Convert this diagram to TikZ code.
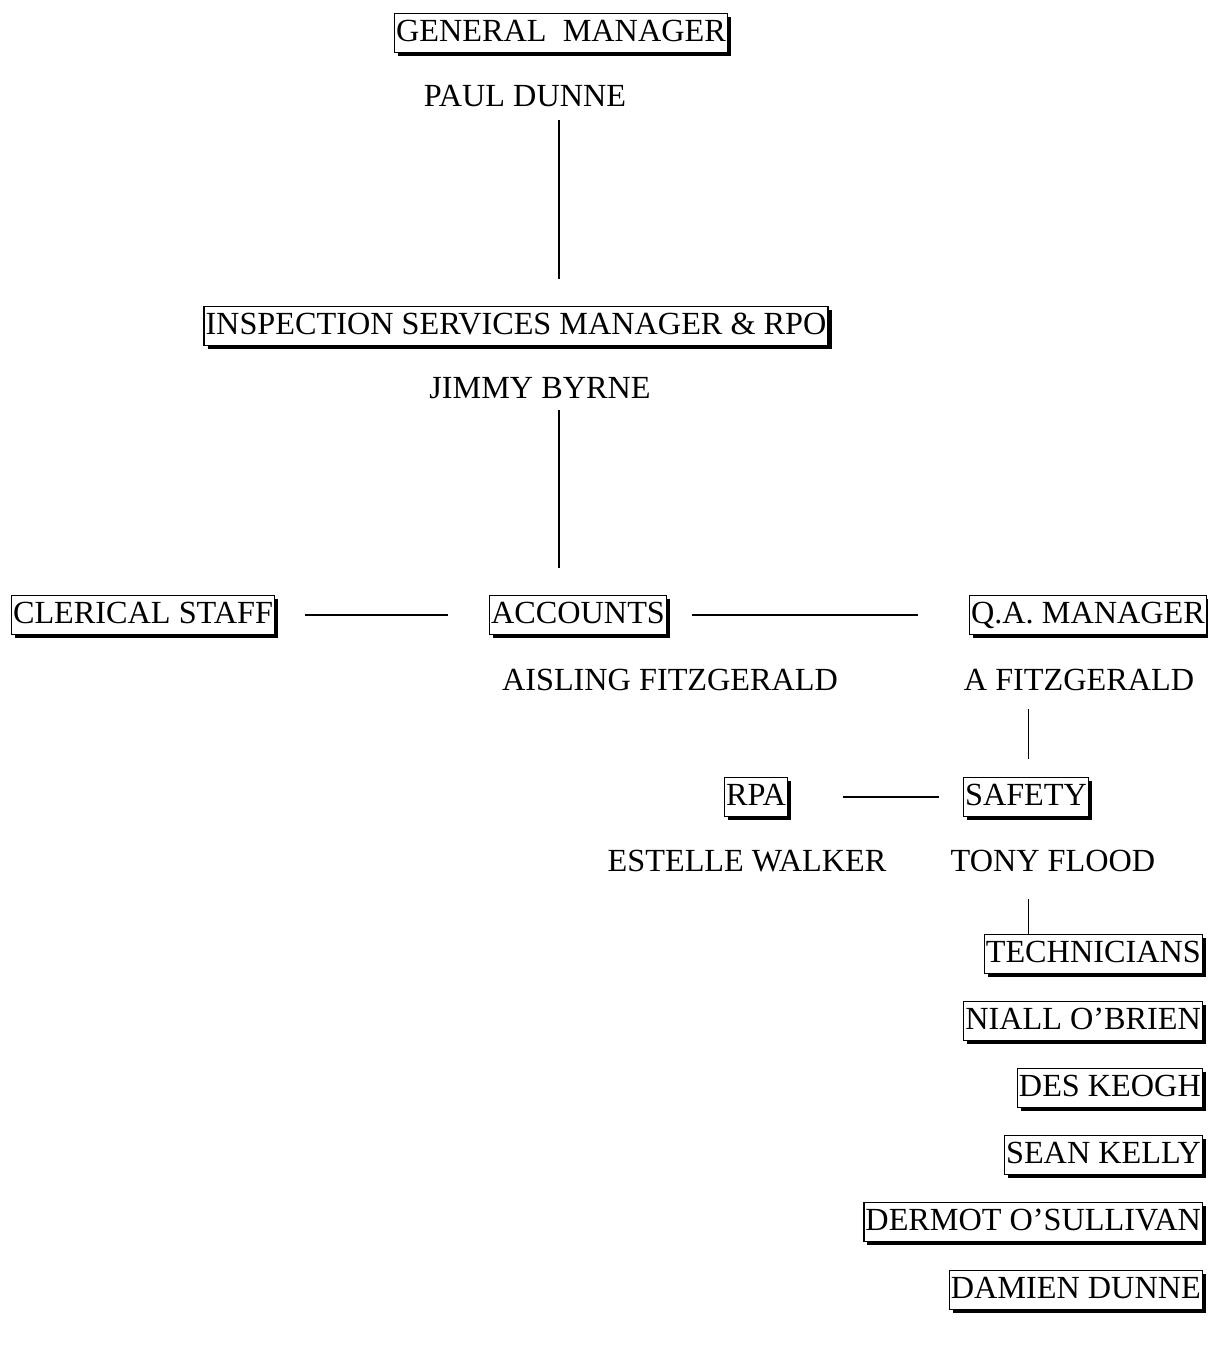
\documentclass[tikz,border=0pt]{standalone}
\usepackage{fontspec}
\setmainfont{Liberation Serif}
\usepackage{tikz}
\usetikzlibrary{shadows}

\tikzset{
  box/.style={draw, line width=0.55pt, fill=white, inner xsep=0.6pt, inner ysep=1.6pt,
    text height=9.6pt, text depth=2.6pt,
    drop shadow={shadow xshift=1.4pt, shadow yshift=-1.4pt, fill=black, opacity=1}},
  person/.style={inner xsep=0.6pt, inner ysep=1.6pt, text height=9.6pt, text depth=2.6pt},
  link/.style={line width=0.6pt}
}

\begin{document}
\begin{tikzpicture}[x=0.4pt, y=-0.4pt, font=\fontsize{12.9}{15}\selectfont]
        \useasboundingbox (0,0) rectangle (1207,1353);
        \node[box](gm)at(561,33){GENERAL\ \ MANAGER};
        \node[person](pd)at(525,98){PAUL DUNNE};
        \node[box](ism)at(516,326){INSPECTION SERVICES MANAGER \& RPO};
        \node[person](jb)at(540,390){JIMMY BYRNE};
        \node[box](cs)at(143,615){CLERICAL STAFF};
        \node[box](acc)at(578,615){ACCOUNTS};
        \node[box](qa)at(1088,615){Q.A. MANAGER};
        \node[person](af)at(670,682){AISLING FITZGERALD};
        \node[person](qf)at(1079,682){A FITZGERALD};
        \node[box](rpa)at(756,797){RPA};
        \node[box](sf)at(1026,797){SAFETY};
        \node[person](ew)at(747,863){ESTELLE WALKER};
        \node[person](tf)at(1053,863){TONY FLOOD};
        \node[box,anchor=east](tech)at(1203,954){TECHNICIANS};
        \node[box,anchor=east](nob)at(1203,1021){NIALL O'BRIEN};
        \node[box,anchor=east](dk)at(1203,1088){DES KEOGH};
        \node[box,anchor=east](sk)at(1203,1155){SEAN KELLY};
        \node[box,anchor=east](dos)at(1203,1222){DERMOT O'SULLIVAN};
        \node[box,anchor=east](dd)at(1203,1290){DAMIEN DUNNE};
        \draw[link, shorten <=1pt, shorten >=10.8pt] ([xshift=-0.8pt]pd.south -| gm.south) -- ([xshift=-0.8pt]ism.north -| gm.south);
        \draw[link, shorten >=11pt] ([xshift=-0.8pt]jb.south -| gm.south) -- ([xshift=-0.8pt]acc.north -| gm.south);
        \draw[link, shorten <=12pt, shorten >=16.4pt] (cs) -- (acc);
        \draw[link, shorten <=10pt, shorten >=20.4pt] (acc) -- (qa);
        \draw[link, shorten <=2.8pt, shorten >=7.2pt] ([xshift=1pt]qf.south -| sf.north) -- ([xshift=1pt]sf.north);
        \draw[link, shorten <=22pt, shorten >=9.6pt] (rpa) -- (sf);
        \draw[link, shorten <=6.4pt] ([xshift=1pt]tf.south -| sf.south) -- ([xshift=1pt]tech.north -| sf.south);
    \end{tikzpicture}
\end{document}
